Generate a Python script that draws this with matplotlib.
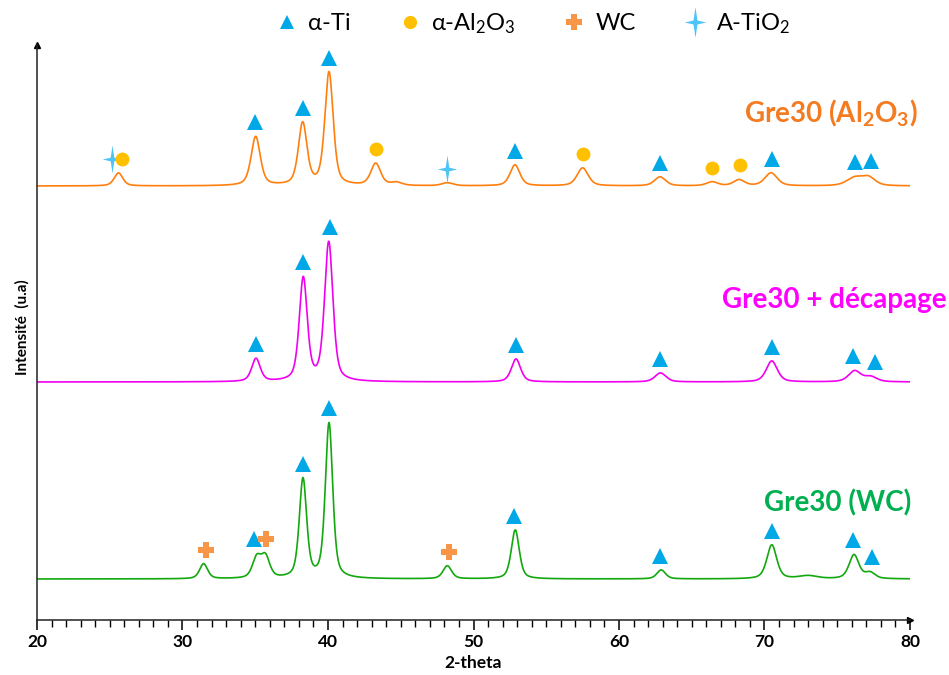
import numpy as np
import matplotlib
matplotlib.use("Agg")
import matplotlib.pyplot as plt
from matplotlib.path import Path
from matplotlib.lines import Line2D

plt.rcParams['font.family'] = ['Lato', 'DejaVu Sans']
plt.rcParams['mathtext.fontset'] = 'custom'
plt.rcParams['mathtext.rm'] = 'Lato'
plt.rcParams['mathtext.it'] = 'Lato:italic'
plt.rcParams['mathtext.bf'] = 'Lato:bold'

# ---------------- data ----------------
two_theta_range = (20, 80)
x_ticks = [20, 30, 40, 50, 60, 70, 80]

series_names = ["Gre30 (Al$_\\mathbf{2}$O$_\\mathbf{3}$)", "Gre30 + décapage", "Gre30 (WC)"]
series_offsets = [434, 238, 41]

# peak lists: centre (2-theta), height (a.u.), FWHM (deg)
al2o3_centres = [25.6, 35.03, 38.26, 40.07, 43.28, 44.7, 48.2, 52.85, 57.5, 62.82, 66.4, 68.25, 70.45, 76.2, 77.15]
al2o3_heights = [13, 49, 62, 113, 22, 3, 3, 21, 18, 9, 4, 6, 13, 8, 8]
al2o3_widths  = [0.7, 0.75, 0.7, 0.68, 0.8, 0.9, 0.9, 0.8, 0.9, 0.9, 0.9, 0.9, 1.0, 1.3, 1.1]

dec_centres = [35.05, 38.3, 40.05, 52.92, 62.85, 70.5, 76.2, 77.3]
dec_heights = [23, 103, 139, 23, 9, 21, 11, 5]
dec_widths  = [0.7, 0.65, 0.68, 0.75, 0.9, 0.9, 1.0, 1.0]

wc_centres = [31.45, 35.1, 35.7, 38.28, 40.07, 48.2, 52.87, 62.9, 70.5, 73.0, 76.15, 77.25]
wc_heights = [15, 20, 21, 99, 155, 13, 49, 9, 34, 3, 24, 6]
wc_widths  = [0.65, 0.7, 0.7, 0.6, 0.6, 0.7, 0.65, 0.7, 0.8, 1.5, 0.8, 0.8]

# phase markers: (phase, 2-theta)
al2o3_marks = [("A-TiO2", 25.13), ("Al2O3", 25.86), ("Ti", 35.0), ("Ti", 38.3), ("Ti", 40.1),
               ("Al2O3", 43.3), ("A-TiO2", 48.2), ("Ti", 52.85), ("Al2O3", 57.5), ("Ti", 62.8),
               ("Al2O3", 66.37), ("Al2O3", 68.3), ("Ti", 70.5), ("Ti", 76.2), ("Ti", 77.3)]
dec_marks = [("Ti", 35.05), ("Ti", 38.3), ("Ti", 40.15), ("Ti", 52.9), ("Ti", 62.85),
             ("Ti", 70.5), ("Ti", 76.1), ("Ti", 77.6)]
wc_marks = [("WC", 31.6), ("Ti", 34.9), ("WC", 35.75), ("Ti", 38.3), ("Ti", 40.1), ("WC", 48.3),
            ("Ti", 52.8), ("Ti", 62.85), ("Ti", 70.5), ("Ti", 76.05), ("Ti", 77.4)]

legend_labels = ["α-Ti", "α-Al$_2$O$_3$", "WC", "A-TiO$_2$"]
# ----------------------------------------------------------------

line_colors = ["#FF7F0E", "#F000F0", "#12A80E"]
text_colors = ["#F47B20", "#FF00FF", "#00B050"]

star_verts = [(0, 1), (0.13, 0.13), (0.7, 0), (0.13, -0.13), (0, -1), (-0.13, -0.13), (-0.7, 0),
              (-0.13, 0.13), (0, 1)]
star = Path(star_verts, [Path.MOVETO] + [Path.LINETO] * 7 + [Path.CLOSEPOLY])

phase_style = {
    "Ti": dict(marker="^", color="#00A8E8", ms=11),
    "Al2O3": dict(marker="o", color="#FFC000", ms=10),
    "WC": dict(marker="P", color="#F79646", ms=12),
    "A-TiO2": dict(marker=star, color="#4CC4F6", ms=20),
}

x = np.linspace(two_theta_range[0], two_theta_range[1], 6001)


def profile(xx, centres, heights, widths):
    y = np.zeros_like(xx, dtype=float)
    for c, h, w in zip(centres, heights, widths):
        g = np.exp(-4 * np.log(2) * ((xx - c) / w) ** 2)
        lo = 1 / (1 + 4 * ((xx - c) / w) ** 2)
        y += h * (0.5 * g + 0.5 * lo)
    return y


fig = plt.figure(figsize=(9.49, 6.75), dpi=100)
ax = fig.add_axes([37 / 949, 1 - 620 / 675, (910 - 37) / 949, (620 - 45) / 675])

all_peaks = [(al2o3_centres, al2o3_heights, al2o3_widths),
             (dec_centres, dec_heights, dec_widths),
             (wc_centres, wc_heights, wc_widths)]
all_marks = [al2o3_marks, dec_marks, wc_marks]

for (c, h, w), off, col, marks in zip(all_peaks, series_offsets, line_colors, all_marks):
    y = off + profile(x, c, h, w)
    ax.plot(x, y, color=col, lw=1.2, zorder=2)
    for phase, pos in marks:
        win = (x > pos - 0.45) & (x < pos + 0.45)
        ym = y[win].max() + 14
        st = phase_style[phase]
        ax.plot([pos], [ym], linestyle="none", marker=st["marker"], color=st["color"],
                markersize=st["ms"], markeredgewidth=0, zorder=3)

label_pos = [(80.55, 507), (82.5, 320), (80.1, 117)]
for name, (lx, ly), tc in zip(series_names, label_pos, text_colors):
    ax.text(lx, ly, name, color=tc, fontsize=20, fontweight="bold", ha="right", va="center",
            clip_on=False)

ax.set_xlim(*two_theta_range)
ax.set_ylim(0, 575)
ax.set_xticks(x_ticks)
ax.set_xticks(np.arange(20, 81, 1), minor=True)
ax.set_yticks([])
for s in ["top", "right"]:
    ax.spines[s].set_visible(False)
for s in ["left", "bottom"]:
    ax.spines[s].set_linewidth(1.1)
    ax.spines[s].set_color("#222222")
ax.tick_params(axis="x", which="major", direction="out", length=7, width=1.1, labelsize=12.5, pad=3)
ax.tick_params(axis="x", which="minor", direction="out", length=5, width=1.0)
for lab in ax.get_xticklabels():
    lab.set_fontweight("bold")
ax.set_xlabel("2-theta", fontsize=12.5, fontweight="bold")
ax.xaxis.set_label_coords(0.5, -0.06)
ax.set_ylabel("Intensité  (u.a)", fontsize=11, fontweight="bold")
ax.yaxis.set_label_coords(-0.008, (620 - 327) / 575)

# axis arrows
ax.plot([1], [0], marker=">", color="black", ms=5, transform=ax.transAxes, clip_on=False)
ax.plot([0], [1], marker="^", color="black", ms=5, transform=ax.transAxes, clip_on=False)

handles = [Line2D([], [], linestyle="none", marker=phase_style[k]["marker"], color=phase_style[k]["color"],
                  markersize=phase_style[k]["ms"] * (0.95 if k != "A-TiO2" else 1.1), markeredgewidth=0)
           for k in ["Ti", "Al2O3", "WC", "A-TiO2"]]
fig.legend(handles, legend_labels, loc="upper center", bbox_to_anchor=(0.56, 1.015), ncol=4,
           frameon=False, fontsize=17, handletextpad=0.3, columnspacing=1.9, handlelength=1.2)

fig.savefig("out.png", dpi=100)
